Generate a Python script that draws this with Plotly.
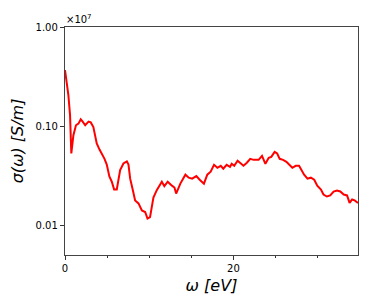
import plotly.graph_objects as go

# photon energy (eV)
omega = [0.0, 0.4, 0.6, 0.75, 1.0, 1.3, 1.6, 1.87, 2.1, 2.4, 2.8, 3.06, 3.37, 3.57, 3.77,
         4.1, 4.37, 4.68, 4.96, 5.27, 5.56, 5.83, 6.15, 6.35, 6.55, 6.94, 7.35, 7.54, 7.74,
         8.06, 8.33, 8.73, 9.13, 9.52, 9.8, 10.1, 10.5, 10.9, 11.5, 11.8, 12.2, 12.7, 13.0,
         13.2, 13.7, 14.3, 14.7, 15.1, 15.6, 16.0, 16.5, 16.9, 17.3, 17.7, 18.1, 18.5, 18.8,
         19.2, 19.6, 19.8, 20.1, 20.5, 20.9, 21.2, 21.6, 22.0, 22.4, 23.0, 23.4, 23.8, 24.2,
         24.5, 24.9, 25.2, 25.5, 25.9, 26.3, 26.7, 27.0, 27.4, 27.8, 28.0, 28.4, 28.8, 29.2,
         29.6, 29.96, 30.4, 30.7, 31.1, 31.5, 31.9, 32.3, 32.7, 33.1, 33.5, 33.8, 34.1, 34.4,
         34.8]

# conductivity (x 1e7 S/m)
sigma = [0.368, 0.206, 0.129, 0.053, 0.081, 0.102, 0.106, 0.117, 0.111, 0.102, 0.111, 0.109,
         0.098, 0.081, 0.067, 0.058, 0.053, 0.047, 0.041, 0.031, 0.0275, 0.023, 0.023, 0.0295,
         0.036, 0.042, 0.044, 0.041, 0.0295, 0.0226, 0.0178, 0.0166, 0.0141, 0.0136, 0.0117,
         0.0121, 0.019, 0.0226, 0.0275, 0.0248, 0.0275, 0.0251, 0.024, 0.0209, 0.0263, 0.0324,
         0.0302, 0.0295, 0.0313, 0.0288, 0.0263, 0.0324, 0.0347, 0.0407, 0.038, 0.0398, 0.0372,
         0.0407, 0.0389, 0.0417, 0.0398, 0.0447, 0.0417, 0.0398, 0.0427, 0.0468, 0.0457, 0.0457,
         0.0501, 0.0417, 0.0479, 0.049, 0.055, 0.053, 0.0468, 0.0457, 0.0437, 0.0407, 0.038,
         0.0398, 0.0398, 0.0372, 0.0324, 0.0295, 0.0302, 0.0288, 0.0251, 0.0229, 0.0204, 0.0195,
         0.02, 0.0219, 0.0224, 0.0219, 0.0204, 0.02, 0.0168, 0.0182, 0.0178, 0.0168]

y_tickvals = [0.01, 0.1, 1.0]
y_ticktext = ["0.01", "0.10", "1.00"]

fig = go.Figure()
fig.add_trace(go.Scatter(x=omega, y=sigma, mode="lines",
                         line=dict(color="#ff0000", width=2)))

fig.update_layout(
    width=365, height=299,
    margin=dict(l=57, r=15, t=19, b=52),
    paper_bgcolor="white", plot_bgcolor="white",
    showlegend=False,
    font=dict(family="DejaVu Sans", size=10, color="black"),
    xaxis=dict(
        range=[0, 34.8], tick0=0, dtick=20, ticks="outside", ticklen=4,
        tickcolor="#333", tickwidth=1, automargin=False,
        minor=dict(dtick=5, ticks="outside", ticklen=2, tickcolor="#333"),
        showgrid=False, zeroline=False, showline=True, linecolor="#444",
        linewidth=1.3, mirror=True,
        title=dict(text="<i>ω [eV]</i>", font=dict(size=16), standoff=6),
    ),
    yaxis=dict(
        type="log", range=[-2.3, 0], tickvals=y_tickvals, ticktext=y_ticktext,
        ticks="outside", ticklen=4, tickcolor="#333", automargin=False,
        showgrid=False, zeroline=False, showline=True, linecolor="#444",
        linewidth=1.3, mirror=True,
        title=dict(text="<i>σ(ω) [S/m]</i>", font=dict(size=16), standoff=8),
    ),
)

fig.add_annotation(text="×10<sup>7</sup>", xref="paper", yref="paper",
                   x=0, y=1, xanchor="left", yanchor="bottom", showarrow=False,
                   font=dict(size=10), xshift=-1)

fig.write_html("out.html")
